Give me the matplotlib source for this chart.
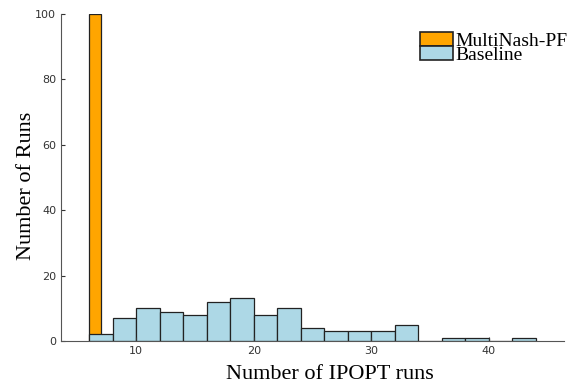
import numpy as np
import matplotlib
matplotlib.use("Agg")
import matplotlib.pyplot as plt

# histogram bins (left edges) and counts
baseline_left = [6, 8, 10, 12, 14, 16, 18, 20, 22, 24, 26, 28, 30, 32, 34, 36, 38, 40, 42]
baseline_counts = [2, 7, 10, 9, 8, 12, 13, 8, 10, 4, 3, 3, 3, 5, 0, 1, 1, 0, 1]
multinash_left = [6]
multinash_counts = [100]

W, H = 574, 383
fig = plt.figure(figsize=(W / 100, H / 100), dpi=100)
ax = fig.add_axes([61 / W, 1 - 341 / H, (564 - 61) / W, (341 - 14) / H])

ax.bar(multinash_left, multinash_counts, width=1, align='edge',
       color='#FFA500', edgecolor='#222222', linewidth=0.9, label='MultiNash-PF')
ax.bar(baseline_left, baseline_counts, width=2, align='edge',
       color='#ADD8E6', edgecolor='#222222', linewidth=0.9, label='Baseline')

ax.set_xlim(3.6, 46.4)
ax.set_ylim(0, 100)
ax.set_xticks([10, 20, 30, 40])
ax.set_yticks([0, 20, 40, 60, 80, 100])
ax.tick_params(direction='in', labelsize=8, colors='#333333', length=3)
for side in ['top', 'right']:
    ax.spines[side].set_visible(False)
for side in ['left', 'bottom']:
    ax.spines[side].set_color('#555555')

serif = 'Liberation Serif'
ax.set_xlabel('Number of IPOPT runs', fontsize=16, family=serif,
              va='baseline', ha='center')
ax.xaxis.set_label_coords(330 / W, 1 - 379 / H, transform=fig.transFigure)
ax.set_ylabel('Number of Runs', fontsize=16, family=serif,
              rotation=90, rotation_mode='anchor', va='baseline', ha='center')
ax.yaxis.set_label_coords(31 / W, 1 - 186 / H, transform=fig.transFigure)

leg = ax.legend(loc='upper left', bbox_to_anchor=(420 / W, 1 - 32 / H),
                bbox_transform=fig.transFigure, frameon=False,
                prop={'family': serif, 'size': 14}, handlelength=1.7,
                handleheight=0.72, handletextpad=0.1, labelspacing=-0.17,
                borderpad=0.0, borderaxespad=0.0)
for p in leg.get_patches():
    p.set_linewidth(1.2)

fig.savefig('out.png', dpi=100)
